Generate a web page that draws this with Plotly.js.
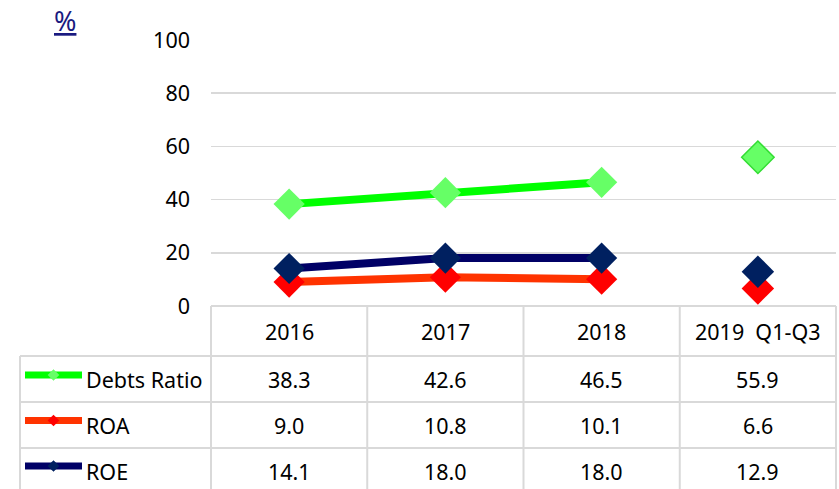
<!DOCTYPE html>
<html>
<head>
<meta charset="utf-8">
<script src="https://cdn.plot.ly/plotly-3.0.1.min.js"></script>
<style>html,body{margin:0;padding:0;background:#fff;}#chart{width:839px;height:489px;}</style>
</head>
<body>
<div id="chart"></div>
<script>
// ---- data ----
var categories = ["2016", "2017", "2018", "2019\u00a0 Q1-Q3"];
var seriesNames = ["Debts Ratio", "ROA", "ROE"];
var debtsRatio = [38.3, 42.6, 46.5, 55.9];
var roa = [9.0, 10.8, 10.1, 6.6];
var roe = [14.1, 18.0, 18.0, 12.9];
var annualCount = 3; // 2016-2018 connected by lines, 2019 Q1-Q3 stand-alone
var yTicks = [0, 20, 40, 60, 80, 100];

// ---- styles ----
var W = 839, H = 489;
function px(x) { return x / W; }
function py(y) { return 1 - y / H; }
var FONT = "Noto Sans, Open Sans, sans-serif";
var FS = 21.5;
var styles = [
  {line: "#00FF00", marker: "#66FF66", border: "#33DD33"},
  {line: "#FF3300", marker: "#FF0000", border: "#FF0000"},
  {line: "#000066", marker: "#002060", border: "#002060"}
];
var allSeries = [debtsRatio, roa, roe];
var xIdx = categories.map(function (c, i) { return i; });

var traces = [];
// lines (annual only)
allSeries.forEach(function (s, k) {
  traces.push({
    x: xIdx.slice(0, annualCount), y: s.slice(0, annualCount),
    type: "scatter", mode: "lines",
    line: {color: styles[k].line, width: 8},
    hoverinfo: "skip", showlegend: false
  });
});
// markers
allSeries.forEach(function (s, k) {
  traces.push({
    x: xIdx, y: s, type: "scatter", mode: "markers",
    marker: {
      symbol: "diamond", color: styles[k].marker, opacity: 1,
      size: xIdx.map(function (i) { return i < annualCount ? 24 : 25; }),
      line: {
        color: xIdx.map(function (i) { return (k === 0 && i >= annualCount) ? styles[k].border : styles[k].marker; }),
        width: xIdx.map(function (i) { return (k === 0 && i >= annualCount) ? 1.5 : 0; })
      }
    },
    name: seriesNames[k], showlegend: false
  });
});
// legend icons in table (own small axes)
seriesNames.forEach(function (n, k) {
  traces.push({
    x: [0, 0.5, 1], y: [n, n, n], xaxis: "x2", yaxis: "y2",
    type: "scatter", mode: "lines+markers",
    line: {color: styles[k].line, width: 7},
    marker: {symbol: "diamond", size: [0, 9, 0], opacity: 1, color: k === 0 ? "#66FF66" : styles[k].marker, line: {width: 0}},
    hoverinfo: "skip", showlegend: false
  });
});

// ---- table shapes ----
var grid = "#D9D9D9";
var shapes = [];
function hline(y, x0, x1) {
  shapes.push({type: "line", xref: "paper", yref: "paper", x0: px(x0), x1: px(x1), y0: py(y), y1: py(y), line: {color: grid, width: 2}});
}
function vline(x, y0, y1) {
  shapes.push({type: "line", xref: "paper", yref: "paper", x0: px(x), x1: px(x), y0: py(y0), y1: py(y1), line: {color: grid, width: 2}});
}
var plotL = 211, plotR = 836, plotT = 40, plotB = 306;
var colW = (plotR - plotL) / categories.length;
var rowH = 46;
hline(306, plotL, plotR);
hline(356, 20, plotR);
hline(402, 20, plotR);
hline(448, 20, plotR);
vline(20, 356, 489);
for (var c = 0; c <= categories.length; c++) vline(plotL + c * colW, 306, 489);

// ---- annotations ----
var ann = [];
ann.push({text: "<u>%</u>", xref: "paper", yref: "paper", x: px(65), y: py(21), xanchor: "center", yanchor: "middle", showarrow: false, font: {family: FONT, size: 27, color: "#1A1A80"}});
categories.forEach(function (c, i) {
  ann.push({text: c, xref: "x", yref: "paper", x: i, y: py(331), xanchor: "center", yanchor: "middle", showarrow: false, font: {family: FONT, size: FS, color: "#000"}});
});
seriesNames.forEach(function (n, k) {
  var yc = 379 + k * rowH;
  ann.push({text: n, xref: "paper", yref: "paper", x: px(84), xanchor: "left", y: py(yc), yanchor: "middle", showarrow: false, font: {family: FONT, size: FS, color: "#000"}});
  allSeries[k].forEach(function (v, i) {
    ann.push({text: v.toFixed(1), xref: "x", yref: "paper", x: i, y: py(yc), xanchor: "center", yanchor: "middle", showarrow: false, font: {family: FONT, size: FS, color: "#000"}});
  });
});

// legend axis geometry: icon centers at ~375, 420.5, 466 px
var iconTop = 375, iconStep = 45.5;
var y2top = iconTop - iconStep / 2, y2bot = iconTop + iconStep * 2.5;

var layout = {
  width: W, height: H,
  margin: {l: 0, r: 0, t: 0, b: 0},
  paper_bgcolor: "#fff", plot_bgcolor: "rgba(0,0,0,0)",
  showlegend: false,
  xaxis: {
    domain: [px(plotL), px(plotR)], range: [-0.5, categories.length - 0.5],
    showgrid: false, zeroline: false, showticklabels: false, showline: false, ticks: "", fixedrange: true
  },
  yaxis: {
    domain: [py(plotB), py(plotT)], range: [0, 100],
    tickvals: yTicks, ticktext: yTicks.map(String),
    showgrid: true, gridcolor: grid, gridwidth: 1.5,
    zeroline: false, showline: false, ticks: "", ticklabelstandoff: 20,
    tickfont: {family: FONT, size: FS, color: "#000"}
  },
  xaxis2: {domain: [px(25), px(82)], range: [0, 1], visible: false, anchor: "y2"},
  yaxis2: {domain: [py(y2bot), py(y2top)], type: "category", categoryarray: seriesNames, range: [2.5, -0.5], visible: false, anchor: "x2"},
  shapes: shapes,
  annotations: ann
};

Plotly.newPlot("chart", traces, layout, {displayModeBar: false, staticPlot: true});
</script>
</body>
</html>
